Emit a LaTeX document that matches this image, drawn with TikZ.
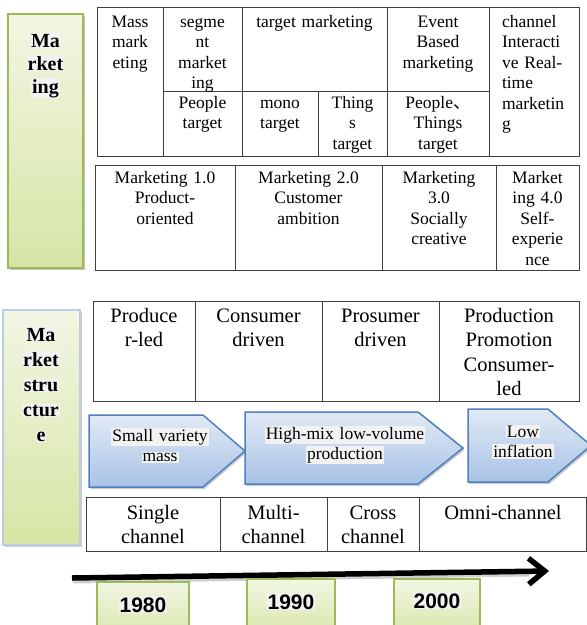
\documentclass[tikz,border=0pt]{standalone}
\usepackage{fontspec}
\setmainfont{Liberation Serif}
\setsansfont{Liberation Sans}
\newfontfamily\cjkfont{Noto Sans CJK SC}
\usetikzlibrary{arrows.meta,shadows}
\definecolor{tablegray}{HTML}{404040}
\definecolor{gborder}{HTML}{9BBB59}
\definecolor{gtop}{HTML}{F2F6E3}
\definecolor{gbot}{HTML}{D6E5A5}
\definecolor{bborder}{HTML}{4F81BD}
\definecolor{btop}{HTML}{E2EAF5}
\definecolor{bbot}{HTML}{A8C2E6}
\definecolor{lblue}{HTML}{B9CDE5}
\definecolor{hlgray}{HTML}{F2F2F2}
\newcommand\hlt[1]{{\setlength\fboxsep{1pt}\colorbox{hlgray}{#1}}}
\tikzset{
  tline/.style={draw=tablegray, line width=1pt},
  txtbase/.style={anchor=base, inner sep=0pt, outer sep=0pt},
  cellA/.style={txtbase, align=center, text width=#1, font={\fontsize{17.5}{20.5}\selectfont}},
  cellL/.style={txtbase, align=left, text width=#1, font={\fontsize{17.5}{20.5}\selectfont}},
  cellB/.style={txtbase, align=center, text width=#1, font={\fontsize{20.5}{24.5}\selectfont}},
  cellC/.style={txtbase, align=center, text width=#1, font={\fontsize{20.5}{24}\selectfont}},
  chevtxt/.style={txtbase, align=center, text width=#1, font={\fontsize{17.5}{20.5}\selectfont}},
  sidetxt/.style={txtbase, align=center, text width=70pt, font={\bfseries\fontsize{20}{#1}\selectfont}},
  yeartxt/.style={txtbase, align=center, font={\sffamily\bfseries\fontsize{21}{24}\selectfont}},
  greenbox/.style={draw=gborder, line width=2.2pt, top color=gtop, bottom color=gbot,
    drop shadow={shadow xshift=2pt, shadow yshift=-2pt, opacity=0.45}},
  msbox/.style={draw=lblue, line width=1.5pt, top color=gtop, bottom color=gbot,
    drop shadow={shadow xshift=2pt, shadow yshift=-2pt, opacity=0.4}},
  yearbox/.style={draw=gborder, line width=1.5pt, top color=gtop, bottom color=gbot},
  chev/.style={draw=bborder, line width=1.5pt, top color=btop, bottom color=bbot,
    drop shadow={shadow xshift=1.5pt, shadow yshift=-2pt, opacity=0.4}},
}
\begin{document}
\begin{tikzpicture}[x=1pt,y=-1pt]
\useasboundingbox (0,0) rectangle (587,625);
\clip (0,0) rectangle (587,625);
\fill[white] (0,0) rectangle (587,625);

% ---------- side boxes ----------
\node[greenbox, minimum width=75pt, minimum height=254pt, inner sep=0pt] (mkbox) at (45.5,141) {};
\node[sidetxt=23pt] (mktxt) at (45.5,47) {\hlt{Ma}\\\hlt{rket}\\\hlt{ing}};

\node[msbox, minimum width=77pt, minimum height=235pt, inner sep=0pt] (msbox) at (41.5,427.5) {};
\node[sidetxt=25pt] (mstxt) at (41,341) {\hlt{Ma}\\\hlt{rket}\\\hlt{stru}\\\hlt{ctur}\\\hlt{e}};

% ---------- top table ----------
\draw[tline] (97,7) rectangle (579,156);
\draw[tline] (163,7) -- (163,156);
\draw[tline] (242,7) -- (242,156);
\draw[tline] (387,7) -- (387,156);
\draw[tline] (489,7) -- (489,156);
\draw[tline] (163,91) -- (489,91);
\draw[tline] (318,91) -- (318,156);

\node[cellA=64pt] (t11) at (130,27) {Mass\\mark\\eting};
\node[cellA=76pt] (t12) at (202.5,27) {segme\\nt\\market\\ing};
\node[cellA=140pt] (t13) at (314.5,27) {target marketing};
\node[cellA=100pt] (t14) at (438,27) {Event\\Based\\marketing};
\node[cellL=66pt] (t15) at (535,27) {channel\\Interacti\\ve Real-\\time\\marketin\\g};
\node[cellA=76pt] (t22) at (202.5,108) {People\\target};
\node[cellA=74pt] (t23) at (280,108) {mono\\target};
\node[cellA=66pt] (t24) at (352.5,108) {Thing\\s\\target};
\node[cellA=100pt] (t25) at (438,108) {People{\cjkfont 、}\\Things\\target};

% ---------- second table ----------
\draw[tline] (95,165) rectangle (579,270);
\draw[tline] (235,165) -- (235,270);
\draw[tline] (382,165) -- (382,270);
\draw[tline] (496,165) -- (496,270);
\node[cellA=136pt] (m1) at (165,183) {Marketing 1.0\\Product-\\oriented};
\node[cellA=144pt] (m2) at (308.5,183) {Marketing 2.0\\Customer\\ambition};
\node[cellA=110pt] (m3) at (439,183) {Marketing\\3.0\\Socially\\creative};
\node[cellA=80pt] (m4) at (537.5,183) {Market\\ing 4.0\\Self-\\experie\\nce};

% ---------- producer table ----------
\draw[tline] (93,301) rectangle (579,401);
\draw[tline] (195,301) -- (195,401);
\draw[tline] (322,301) -- (322,401);
\draw[tline] (439,301) -- (439,401);
\node[cellB=100pt] (p1) at (144,322) {Produce\\r-led};
\node[cellB=124pt] (p2) at (258.5,322) {Consumer\\driven};
\node[cellB=114pt] (p3) at (380.5,322) {Prosumer\\driven};
\node[cellB=138pt] (p4) at (509,322) {Production\\Promotion\\Consumer-\\led};

% ---------- chevrons ----------
\draw[chev] (89,415) -- (203,415) -- (245,451) -- (203,487) -- (89,487) -- cycle;
\draw[chev] (245,412) -- (418,412) -- (463,448) -- (418,484) -- (245,484) -- cycle;
\draw[chev] (468,409) -- (548,409) -- (591,445.5) -- (548,482) -- (468,482) -- cycle;
\node[chevtxt=140pt] (c1) at (160,441) {\hlt{Small variety}\\\hlt{mass}};
\node[chevtxt=200pt] (c2) at (345,439) {\hlt{High-mix low-volume}\\\hlt{production}};
\node[chevtxt=90pt] (c3) at (523,437) {\hlt{Low}\\\hlt{inflation}};

% ---------- bottom table ----------
\draw[tline] (86,497) rectangle (586,551);
\draw[tline] (220,497) -- (220,551);
\draw[tline] (327,497) -- (327,551);
\draw[tline] (419,497) -- (419,551);
\node[cellC=130pt] (b1) at (153,519) {Single\\channel};
\node[cellC=104pt] (b2) at (273.5,519) {Multi-\\channel};
\node[cellC=90pt] (b3) at (373,519) {Cross\\channel};
\node[cellC=164pt] (b4) at (503,519) {Omni-channel};

% ---------- time arrow ----------
\coordinate (ts) at (72,578);
\coordinate (te) at (549,571);
\draw[gray!60, opacity=0.6, line width=5pt] ([shift={(1,3)}]ts) -- ([shift={(-20,3)}]te);
\draw[black, line width=5.5pt, -{Straight Barb[length=16pt, width=26pt]}] (ts) -- (te);

% ---------- year boxes ----------
\node[yearbox, minimum width=92pt, minimum height=60pt, inner sep=0pt] (y1box) at (143,612) {};
\node[yearbox, minimum width=88pt, minimum height=62pt, inner sep=0pt] (y2box) at (291,610) {};
\node[yearbox, minimum width=86pt, minimum height=62pt, inner sep=0pt] (y3box) at (437,610) {};
\node[yeartxt] (y1) at (143,612) {\hlt{1980}};
\node[yeartxt] (y2) at (291,609) {\hlt{1990}};
\node[yeartxt] (y3) at (437,608) {\hlt{2000}};
\end{tikzpicture}
\end{document}
